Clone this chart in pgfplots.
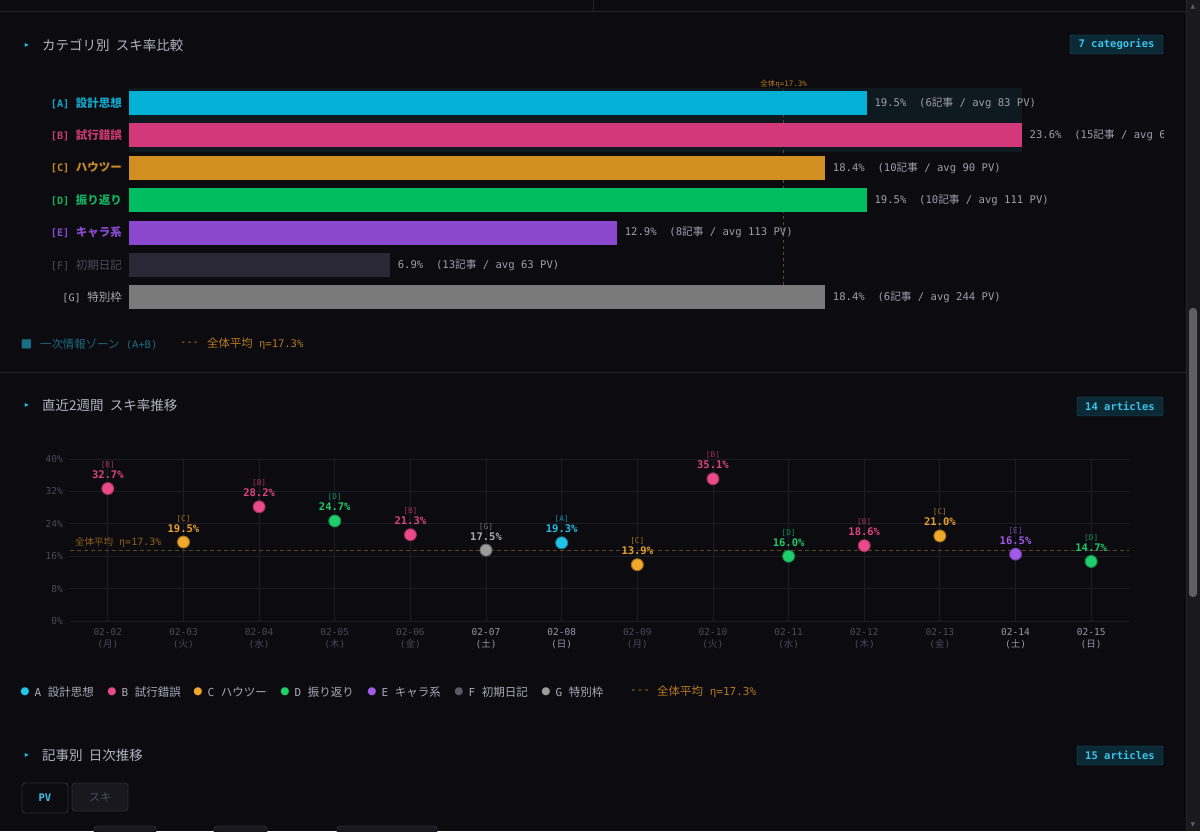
\documentclass[border=0pt]{standalone}
\usepackage{fontspec}
\usepackage{pgfplots}
\pgfplotsset{compat=1.18}
\setmainfont{DejaVu Sans Mono}
\newfontfamily\jp{Noto Sans CJK JP}
\newfontfamily\dv{DejaVu Sans}
\newcommand\J[1]{{\jp #1}}
\newcommand\fs[1]{\fontsize{#1}{#1}\selectfont}
\definecolor{bg}{HTML}{0C0B10}
\definecolor{linec}{HTML}{25242E}
\definecolor{headc}{HTML}{B4B4C2}
\definecolor{tri}{HTML}{22BDE6}
\definecolor{badgefill}{HTML}{0B2A35}
\definecolor{badgeline}{HTML}{1A5A6E}
\definecolor{badgetxt}{HTML}{3CC3EC}
\definecolor{barA}{HTML}{03B0D6}
\definecolor{barB}{HTML}{D2387A}
\definecolor{barC}{HTML}{D08F20}
\definecolor{barD}{HTML}{02BC62}
\definecolor{barE}{HTML}{8A48CE}
\definecolor{barF}{HTML}{2A2836}
\definecolor{barG}{HTML}{7A7A7A}
\definecolor{labA}{HTML}{13A6CC}
\definecolor{labB}{HTML}{C93B72}
\definecolor{labC}{HTML}{C98A22}
\definecolor{labD}{HTML}{14B062}
\definecolor{labE}{HTML}{8A4ACF}
\definecolor{labF}{HTML}{4C4B58}
\definecolor{labG}{HTML}{A9A9A9}
\definecolor{valc}{HTML}{9E9EAA}
\definecolor{avgtxt}{HTML}{B87A1E}
\definecolor{avgline}{HTML}{5C4A1E}
\definecolor{zonec}{HTML}{0E1920}
\definecolor{zonesq}{HTML}{1A6E84}
\definecolor{zonelt}{HTML}{1A6A80}
\definecolor{gridc}{HTML}{1D1D27}
\definecolor{tickc}{HTML}{4A4A58}
\definecolor{tickw}{HTML}{9898A6}
\definecolor{pA}{HTML}{22C3EB}
\definecolor{pB}{HTML}{EA4A8B}
\definecolor{pC}{HTML}{F0A82A}
\definecolor{pD}{HTML}{1ECF6C}
\definecolor{pE}{HTML}{A25AE8}
\definecolor{pF}{HTML}{5A5A68}
\definecolor{pG}{HTML}{9C9C9C}
\definecolor{vA}{HTML}{22BFE6}
\definecolor{vB}{HTML}{DD4480}
\definecolor{vC}{HTML}{E8A22A}
\definecolor{vD}{HTML}{1EC86A}
\definecolor{vE}{HTML}{A05AE6}
\definecolor{vG}{HTML}{AAAAB2}
\definecolor{tA}{HTML}{1A8AAA}
\definecolor{tB}{HTML}{A2325E}
\definecolor{tC}{HTML}{A07420}
\definecolor{tD}{HTML}{14905A}
\definecolor{tE}{HTML}{7A46B0}
\definecolor{tG}{HTML}{707078}
\definecolor{legc}{HTML}{A8A8B8}
\definecolor{sbtrack}{HTML}{1A1A1E}
\definecolor{sbthumb}{HTML}{5E5E63}
\definecolor{tabfill}{HTML}{18181E}
\definecolor{tabline}{HTML}{2A2A34}
\definecolor{tabtxt}{HTML}{4E4E5C}
\newcommand\wk[2]{\textcolor{tickc}{#1}\\\textcolor{tickc}{(\J{#2})}}
\newcommand\we[2]{\textcolor{tickw}{#1}\\\textcolor{tickw}{(\J{#2})}}
\newcommand\lab[3]{\textcolor{#1}{#2\hspace{6.5pt}{\jp\fs{11.5}#3}}}
\pgfplotsset{
  hb/.style={xbar, bar width=24pt, bar shift=0pt, draw=none, fill=#1},
  pt/.style n args={3}{only marks, mark=*, mark size=6pt, color=#2,
     mark options={fill=#1, draw=#1!65!black, line width=0.9pt},
     nodes near coords={#3}},
}
\tikzset{tag/.style={anchor=base, inner sep=0pt, yshift=21pt, font=\fs{7.8}}}
\begin{document}
\begin{tikzpicture}[x=1pt,y=1pt]
\path[use as bounding box, fill=bg] (0,0) rectangle (1200,831);
% chrome
\draw[linec, line width=1pt] (0,819) -- (1186,819);
\draw[linec, line width=1pt] (593,819) -- (593,831);
\draw[linec, line width=1pt] (0,458) -- (1186,458);
% heading 1
\node[text=tri, font=\dv\fs{8}] at (27,786) {▸};
\node[anchor=west, inner sep=0pt, text=headc, font=\jp\fs{13.5}] at (42,786) {カテゴリ別\hspace{0.45em}スキ率比較};
\draw[badgeline, fill=badgefill, rounded corners=2pt] (1070,777) rectangle (1163,796);
\node[text=badgetxt, font=\bfseries\fs{10.5}] at (1116.5,786.5) {7 categories};
% bar chart
\begin{axis}[at={(129pt,517.4pt)}, anchor=south west, scale only axis,
  width=893pt, height=226.8pt, xmin=0, xmax=23.6, ymin=-0.5, ymax=6.5,
  y dir=reverse, axis line style={draw=none}, tick style={draw=none},
  major tick length=0pt, xtick=\empty, ytick={0,...,6}, clip=false,
  yticklabel style={anchor=east, inner sep=0pt, xshift=-7pt, font=\fs{10.2}},
  yticklabels={
    {\bfseries\lab{labA}{[A]}{設計思想}},
    {\bfseries\lab{labB}{[B]}{試行錯誤}},
    {\bfseries\lab{labC}{[C]}{ハウツー}},
    {\bfseries\lab{labD}{[D]}{振り返り}},
    {\bfseries\lab{labE}{[E]}{キャラ系}},
    {\lab{labF}{[F]}{初期日記}},
    {\lab{labG}{[G]}{特別枠}}},
  every node near coord/.append style={anchor=west, inner sep=0pt, xshift=7.5pt, text=valc, font=\fs{10.6}},
]
\addplot[fill=zonec, draw=none] coordinates {(0,-0.46) (23.6,-0.46) (23.6,1.5) (0,1.5)};
\addplot[avgline, dash pattern=on 3pt off 3pt, line width=0.9pt] coordinates {(17.3,-0.4) (17.3,6.4)};
\addplot[hb=barA, nodes near coords={19.5\%\hspace{1.2em}(6\J{記事} / avg 83 PV)}] coordinates {(19.5,0)};
\addplot[hb=barB, nodes near coords={23.6\%\hspace{1.2em}(15\J{記事} / avg 64 PV)}] coordinates {(23.6,1)};
\addplot[hb=barC, nodes near coords={18.4\%\hspace{1.2em}(10\J{記事} / avg 90 PV)}] coordinates {(18.4,2)};
\addplot[hb=barD, nodes near coords={19.5\%\hspace{1.2em}(10\J{記事} / avg 111 PV)}] coordinates {(19.5,3)};
\addplot[hb=barE, nodes near coords={12.9\%\hspace{1.2em}(8\J{記事} / avg 113 PV)}] coordinates {(12.9,4)};
\addplot[hb=barF, nodes near coords={6.9\%\hspace{1.2em}(13\J{記事} / avg 63 PV)}] coordinates {(6.9,5)};
\addplot[hb=barG, nodes near coords={18.4\%\hspace{1.2em}(6\J{記事} / avg 244 PV)}] coordinates {(18.4,6)};
\node[anchor=south, inner sep=0pt, text=avgtxt, font=\fs{7.5}, yshift=-1pt] at (axis cs:17.3,-0.5) {\J{全体}η=17.3\%};
\end{axis}
\fill[bg] (1164,684) rectangle (1186,708);
% scrollbar (on top)
\fill[sbtrack] (1186,0) rectangle (1200,831);
\draw[linec] (1186,0) -- (1186,831);
\fill[sbthumb, rounded corners=3.5pt] (1189,234) rectangle (1197,523);
\node[text=sbthumb, font=\dv\fs{6}] at (1193,824) {▲};
\node[text=sbthumb, font=\dv\fs{6}] at (1193,6) {▼};
% legend 1
\node[text=zonesq, font=\dv\fs{12}] at (26.5,487) {■};
\node[anchor=west, inner sep=0pt, text=zonelt, font=\jp\fs{11.4}] at (40,487) {一次情報ゾーン{\rmfamily\fs{10.5}\ (A+B)}};
\node[anchor=west, inner sep=0pt, text=avgtxt, font=\fs{10.5}] at (180,487) {-{}-{}-};
\node[anchor=west, inner sep=0pt, text=avgtxt, font=\fs{10.5}] at (207,487) {{\jp\fs{11.4}全体平均}\ η=17.3\%};
% heading 2
\node[text=tri, font=\dv\fs{8}] at (27,426) {▸};
\node[anchor=west, inner sep=0pt, text=headc, font=\jp\fs{13.5}] at (42,426) {直近2週間\hspace{0.45em}スキ率推移};
\draw[badgeline, fill=badgefill, rounded corners=2pt] (1077,415) rectangle (1163,434);
\node[text=badgetxt, font=\bfseries\fs{10.5}] at (1120,424.5) {14 articles};
% scatter chart
\begin{axis}[at={(70pt,210pt)}, anchor=south west, scale only axis,
  width=1059pt, height=162pt, xmin=-0.5, xmax=13.5, ymin=0, ymax=40,
  xtick={0,...,13}, ytick={0,8,...,40}, grid=major,
  grid style={gridc, line width=0.8pt},
  axis line style={draw=none}, tick style={draw=none}, major tick length=0pt,
  clip=false,
  yticklabels={0\%,8\%,16\%,24\%,32\%,40\%},
  yticklabel style={anchor=east, inner sep=0pt, xshift=-7pt, text=tickc, font=\fs{9.5}},
  xticklabel style={anchor=north, inner sep=0pt, yshift=-7pt, align=center, font=\fontsize{9.5}{12}\selectfont},
  xticklabels={{\wk{02-02}{月}},{\wk{02-03}{火}},{\wk{02-04}{水}},{\wk{02-05}{木}},{\wk{02-06}{金}},{\we{02-07}{土}},{\we{02-08}{日}},
    {\wk{02-09}{月}},{\wk{02-10}{火}},{\wk{02-11}{水}},{\wk{02-12}{木}},{\wk{02-13}{金}},{\we{02-14}{土}},{\we{02-15}{日}}},
  every node near coord/.append style={anchor=base, inner sep=0pt, yshift=10pt, font=\bfseries\fs{10.5}},
]
\addplot[avgline, dash pattern=on 4pt off 3pt, line width=0.9pt] coordinates {(-0.5,17.3) (13.5,17.3)};
\node[anchor=south west, inner sep=0pt, text=avgtxt!80!black, font=\fs{10}, xshift=5pt, yshift=3pt] at (axis cs:-0.5,17.3) {{\jp\fs{9.5}全体平均}\ η=17.3\%};
\addplot[pt={pB}{vB}{32.7\%}] coordinates {(0,32.7)};
\addplot[pt={pC}{vC}{19.5\%}] coordinates {(1,19.5)};
\addplot[pt={pB}{vB}{28.2\%}] coordinates {(2,28.2)};
\addplot[pt={pD}{vD}{24.7\%}] coordinates {(3,24.7)};
\addplot[pt={pB}{vB}{21.3\%}] coordinates {(4,21.3)};
\addplot[pt={pG}{vG}{17.5\%}] coordinates {(5,17.5)};
\addplot[pt={pA}{vA}{19.3\%}] coordinates {(6,19.3)};
\addplot[pt={pC}{vC}{13.9\%}] coordinates {(7,13.9)};
\addplot[pt={pB}{vB}{35.1\%}] coordinates {(8,35.1)};
\addplot[pt={pD}{vD}{16.0\%}] coordinates {(9,16.0)};
\addplot[pt={pB}{vB}{18.6\%}] coordinates {(10,18.6)};
\addplot[pt={pC}{vC}{21.0\%}] coordinates {(11,21.0)};
\addplot[pt={pE}{vE}{16.5\%}] coordinates {(12,16.5)};
\addplot[pt={pD}{vD}{14.7\%}] coordinates {(13,14.7)};
\node[tag, text=tB] at (axis cs:0,32.7) {[B]};
\node[tag, text=tC] at (axis cs:1,19.5) {[C]};
\node[tag, text=tB] at (axis cs:2,28.2) {[B]};
\node[tag, text=tD] at (axis cs:3,24.7) {[D]};
\node[tag, text=tB] at (axis cs:4,21.3) {[B]};
\node[tag, text=tG] at (axis cs:5,17.5) {[G]};
\node[tag, text=tA] at (axis cs:6,19.3) {[A]};
\node[tag, text=tC] at (axis cs:7,13.9) {[C]};
\node[tag, text=tB] at (axis cs:8,35.1) {[B]};
\node[tag, text=tD] at (axis cs:9,16.0) {[D]};
\node[tag, text=tB] at (axis cs:10,18.6) {[B]};
\node[tag, text=tC] at (axis cs:11,21.0) {[C]};
\node[tag, text=tE] at (axis cs:12,16.5) {[E]};
\node[tag, text=tD] at (axis cs:13,14.7) {[D]};
\end{axis}
% legend 2
\foreach \x/\c/\l/\n in {25/pA/A/設計思想, 112/pB/B/試行錯誤, 198/pC/C/ハウツー, 285/pD/D/振り返り, 372/pE/E/キャラ系, 459/pF/F/初期日記, 546/pG/G/特別枠}{
  \node[text=\c, font=\dv\fs{10.5}] at (\x,139) {●};
  \node[anchor=west, inner sep=0pt, text=legc, font=\fs{11}] at (\x+9.4,139) {\l\ {\jp\fs{11.5}\n}};
}
\node[anchor=west, inner sep=0pt, text=avgtxt, font=\fs{11}] at (630,139) {-{}-{}-};
\node[anchor=west, inner sep=0pt, text=avgtxt, font=\fs{11}] at (657,139) {{\jp\fs{11.5}全体平均}\ η=17.3\%};
% heading 3
\node[text=tri, font=\dv\fs{8}] at (27,76) {▸};
\node[anchor=west, inner sep=0pt, text=headc, font=\jp\fs{13.5}] at (42,76) {記事別\hspace{0.45em}日次推移};
\draw[badgeline, fill=badgefill, rounded corners=2pt] (1077,66) rectangle (1163,85);
\node[text=badgetxt, font=\bfseries\fs{10.5}] at (1120,75.5) {15 articles};
% tabs
\draw[tabline, fill=bg, rounded corners=3pt, line width=0.9pt] (22,18) rectangle (68,48);
\node[text=badgetxt, font=\bfseries\fs{10.5}] at (45,33) {PV};
\draw[tabline, fill=tabfill, rounded corners=3pt, line width=0.9pt] (72,20) rectangle (128,48);
\node[text=tabtxt, font=\jp\fs{11}] at (100,34) {スキ};
\draw[tabline, fill=tabfill, rounded corners=3pt, line width=0.9pt] (94,-10) rectangle (156,5);
\draw[tabline, fill=tabfill, rounded corners=3pt, line width=0.9pt] (214,-10) rectangle (267,5);
\draw[tabline, fill=tabfill, rounded corners=3pt, line width=0.9pt] (337,-10) rectangle (437,5);
\end{tikzpicture}
\end{document}
